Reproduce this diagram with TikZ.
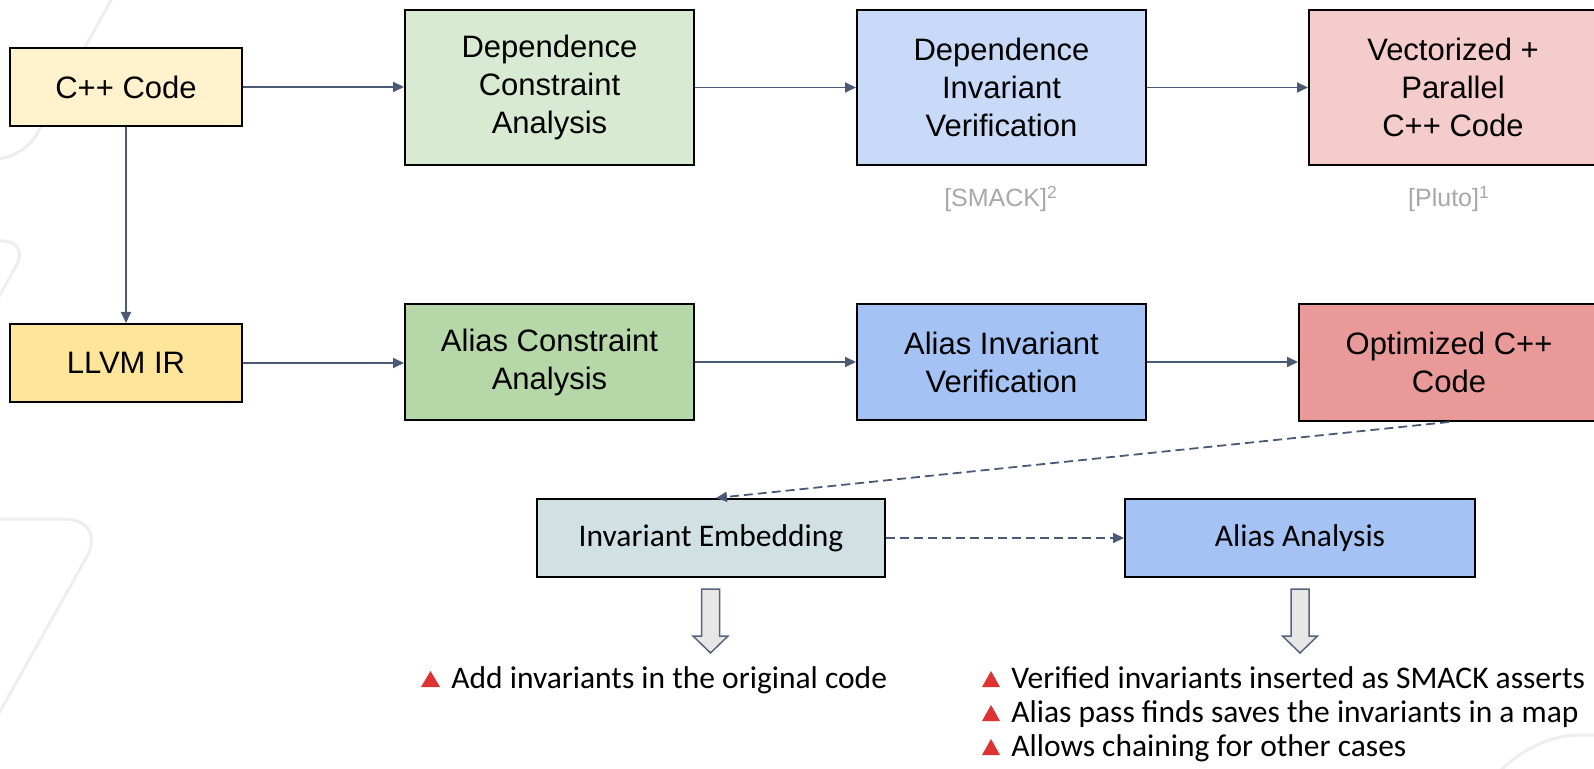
\documentclass[tikz,border=0pt]{standalone}
\usepackage{fontspec}
\setmainfont{Liberation Sans}
\newfontfamily\calibfont{Carlito}
\usetikzlibrary{arrows.meta}

\definecolor{cppfill}{HTML}{FFF2CC}
\definecolor{llvmfill}{HTML}{FFE599}
\definecolor{depfill}{HTML}{D9EAD3}
\definecolor{aliasfill}{HTML}{B6D7A8}
\definecolor{dinvfill}{HTML}{C9DAF8}
\definecolor{ainvfill}{HTML}{A4C2F4}
\definecolor{vecfill}{HTML}{F4CCCC}
\definecolor{optfill}{HTML}{EA9999}
\definecolor{embfill}{HTML}{D0E0E3}
\definecolor{linkcol}{HTML}{4A5A75}
\definecolor{citecol}{HTML}{A8A8A8}
\definecolor{decocol}{HTML}{EEEEEE}
\definecolor{bulletred}{HTML}{DD3333}
\definecolor{blockfill}{HTML}{E7E7E7}
\definecolor{blockline}{HTML}{56657D}

\begin{document}
\begin{tikzpicture}[x=0.5pt,y=-0.5pt,
  box/.style={draw=black, line width=1pt, inner sep=0pt, align=center,
    font=\fontsize{15.5}{19}\selectfont},
  lowbox/.style={draw=black, line width=1pt, inner sep=0pt, align=center,
    font=\calibfont\fontsize{15.75}{19}\selectfont},
  link/.style={draw=linkcol, line width=0.9pt, -{Triangle[length=5.5pt,width=5pt]}},
  dlink/.style={link, dash pattern=on 4.5pt off 2.5pt},
  cite/.style={text=citecol, font=\fontsize{12.5}{15}\selectfont},
  item/.style={anchor=base west, inner sep=0pt, font=\calibfont\fontsize{15.75}{17}\selectfont},
  deco/.style={draw=decocol, line width=1.5pt, rounded corners=14pt},
  block/.style={draw=blockline, fill=blockfill, line width=0.75pt, line join=miter}]

\clip (0,0) rectangle (1594,769);
\fill[white] (0,0) rectangle (1594,769);

% faint decorative outlines in the background
\draw[deco] (125,-25) -- (23,159) -- (-20,159);
\draw[deco] (-20,241) -- (30,241) -- (-30,349);
\draw[deco, rounded corners=22pt] (-20,519) -- (108,519) -- (-30,765);
\draw[deco, rounded corners=28pt] (1478,803) -- (1522,735) -- (1620,735);

% upper row
\node[box, fill=cppfill, minimum width=116pt, minimum height=39pt] (cpp) at (126,87) {C++ Code};
\node[box, fill=depfill, minimum width=144.5pt, minimum height=77.5pt] (dca) at (549.5,87.5)
  {Dependence\\Constraint\\Analysis};
\node[box, fill=dinvfill, minimum width=144.5pt, minimum height=77.5pt] (dinv) at (1001.5,87.5)
  {Dependence\\Invariant\\Verification};
\node[box, fill=vecfill, minimum width=144pt, minimum height=77.5pt] (vec) at (1453,87.5)
  {Vectorized +\\Parallel\\C++ Code};

\node[cite] (smack) at (1001,199) {[SMACK]\textsuperscript{2}};
\node[cite] (pluto) at (1449,199) {[Pluto]\textsuperscript{1}};

% lower row
\node[box, fill=llvmfill, minimum width=116pt, minimum height=39pt] (llvm) at (126,363) {LLVM IR};
\node[box, fill=aliasfill, minimum width=144.5pt, minimum height=58pt] (aca) at (549.5,362)
  {Alias Constraint\\Analysis};
\node[box, fill=ainvfill, minimum width=144.5pt, minimum height=58pt] (ainv) at (1001.5,362)
  {Alias Invariant\\Verification};
\node[box, fill=optfill, minimum width=150pt, minimum height=58.5pt] (opt) at (1449,362.5)
  {Optimized C++\\Code};

% embedding stage
\node[lowbox, fill=embfill, minimum width=174pt, minimum height=39pt] (emb) at (711,538) {Invariant Embedding};
\node[lowbox, fill=ainvfill, minimum width=175pt, minimum height=39pt] (aa) at (1300,538) {Alias Analysis};

% connectors
\draw[link] (cpp.east) -- (cpp.east -| dca.west);
\draw[link] (dca.east) -- (dinv.west);
\draw[link] (dinv.east) -- (vec.west);
\draw[link] (cpp.south) -- (llvm.north);
\draw[link] (llvm.east) -- (llvm.east -| aca.west);
\draw[link] (aca.east) -- (ainv.west);
\draw[link] (ainv.east) -- (ainv.east -| opt.west);
\draw[dlink] (opt.south) -- ([xshift=2.5pt]emb.north);
\draw[dlink] (emb.east) -- (aa.west);

% hollow block arrows below the embedding stage
\draw[block] (701.5,589) -- (719.5,589) -- (719.5,636) -- (728,636) -- (710.5,653)
  -- (693,636) -- (701.5,636) -- cycle;
\draw[block] (1291,589) -- (1309,589) -- (1309,636) -- (1317.5,636) -- (1300,653)
  -- (1282.5,636) -- (1291,636) -- cycle;

% bullet lists
\fill[bulletred] (421,687) -- (440,687) -- (430.5,671) -- cycle;
\node[item] (t1) at (451,688) {Add invariants in the original code};

\fill[bulletred] (982,687) -- (1000,687) -- (991,671) -- cycle;
\node[item] (t2) at (1011,688) {Verified invariants inserted as SMACK asserts};
\fill[bulletred] (982,721) -- (1000,721) -- (991,705) -- cycle;
\node[item] (t3) at (1011,722) {Alias pass finds saves the invariants in a map};
\fill[bulletred] (982,755) -- (1000,755) -- (991,739) -- cycle;
\node[item] (t4) at (1011,756) {Allows chaining for other cases};
\end{tikzpicture}
\end{document}
